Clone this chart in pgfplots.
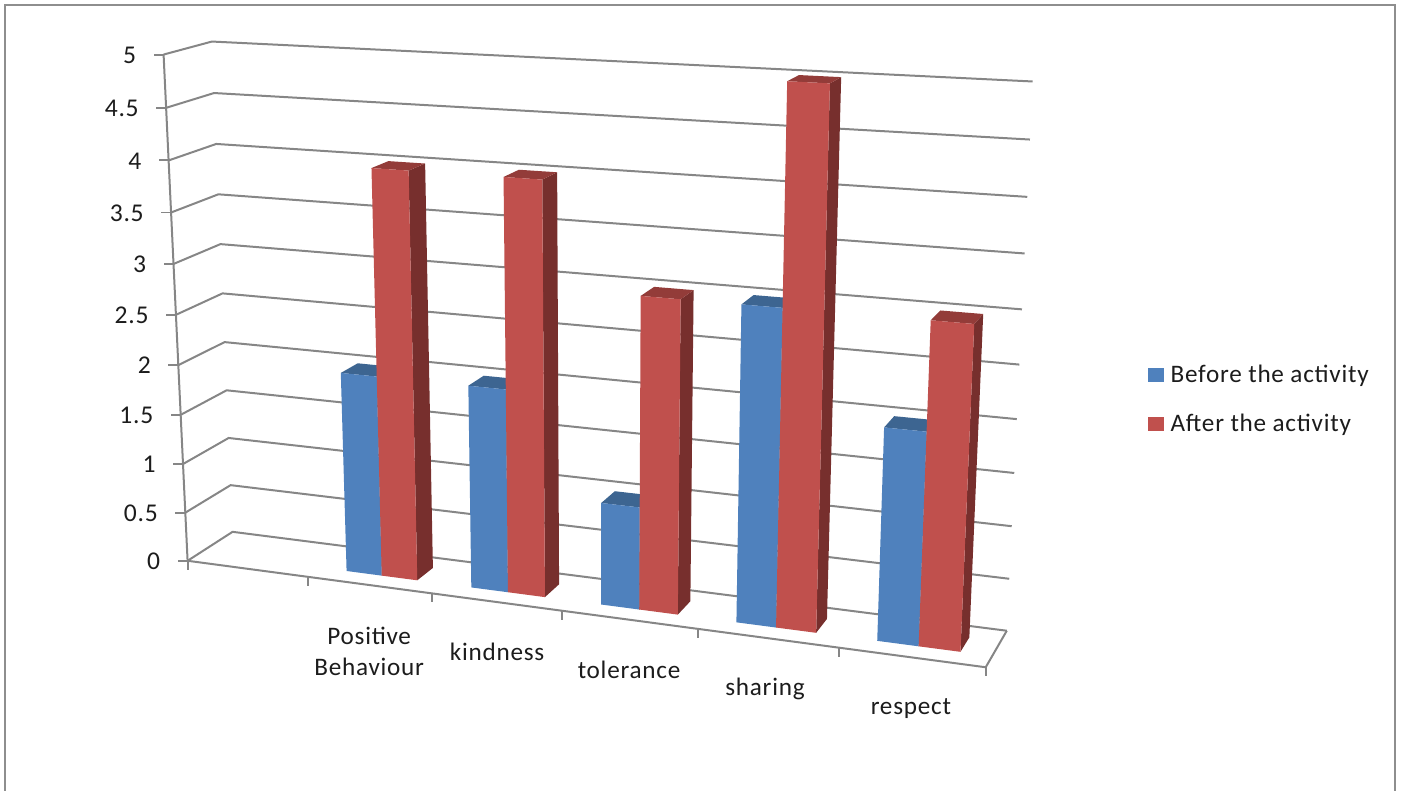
\documentclass[border=0pt]{standalone}
\usepackage{pgfplots}
\pgfplotsset{compat=1.18}
\usepackage{fontspec}
\setmainfont[LetterSpace=3]{Carlito}
\definecolor{wallgrey}{HTML}{868686}
\definecolor{framegrey}{HTML}{8E8E8E}
\definecolor{labelink}{HTML}{1C1C1C}
\definecolor{beforefront}{HTML}{4F81BD}
\definecolor{beforeside}{HTML}{2F5480}
\definecolor{beforetop}{HTML}{3D6591}
\definecolor{afterfront}{HTML}{C0504D}
\definecolor{afterside}{HTML}{772F2D}
\definecolor{aftertop}{HTML}{933C39}

% One column pair of a 3-D bar: u runs along the categories, d into the depth, v up the value axis.
\newcommand{\prism}[6]{%
  \addplot[draw=none,fill=#5,forget plot] table[row sep=\\,x expr={PX(\thisrow{u},\thisrow{d},\thisrow{v})},y expr={PY(\thisrow{u},\thisrow{d},\thisrow{v})}]
    {u d v\\ #2 0.3 0\\ #2 0.7 0\\ #2 0.7 #3\\ #2 0.3 #3\\};
  \addplot[draw=none,fill=#6,forget plot] table[row sep=\\,x expr={PX(\thisrow{u},\thisrow{d},\thisrow{v})},y expr={PY(\thisrow{u},\thisrow{d},\thisrow{v})}]
    {u d v\\ #1 0.3 #3\\ #2 0.3 #3\\ #2 0.7 #3\\ #1 0.7 #3\\};
  \addplot[draw=none,fill=#4,forget plot] table[row sep=\\,x expr={PX(\thisrow{u},\thisrow{d},\thisrow{v})},y expr={PY(\thisrow{u},\thisrow{d},\thisrow{v})}]
    {u d v\\ #1 0.3 0\\ #2 0.3 0\\ #2 0.3 #3\\ #1 0.3 #3\\};
}
\newcommand{\wallline}[1]{%
  \addplot[wallgrey,line width=1pt,forget plot] table[row sep=\\,x expr={PX(\thisrow{u},\thisrow{d},\thisrow{v})},y expr={PY(\thisrow{u},\thisrow{d},\thisrow{v})}]
    {u d v\\ 0 0 #1\\ 0 1 #1\\ 1 1 #1\\};
}

\begin{document}
\begin{tikzpicture}
\begin{axis}[
  width=702pt,height=395.5pt,scale only axis,
  xmin=0,xmax=1404,ymin=0,ymax=791,y dir=reverse,
  hide axis,clip=false,
  declare function={
    Wp(\a,\b,\c)=1-0.115*\a+0.034*\b-0.011*\c;
    PX(\a,\b,\c)=(187.3+685.2*\a+52.9*\b-6.6*\c)/Wp(\a,\b,\c);
    PY(\a,\b,\c)=(560.7+29.8*\a-10.9*\b-101.9*\c)/Wp(\a,\b,\c);
  },
]
% page and chart frame
\addplot[white,forget plot] coordinates {(0,0)(1404,791)};
\addplot[framegrey,line width=1pt,forget plot] coordinates {(5,791)(5,5)(1395,5)(1395,791)};

% walls: one gridline per half unit
\pgfplotsinvokeforeach{0.5,1,1.5,2,2.5,3,3.5,4,4.5,5}{\wallline{#1}}
\wallline{0}

% floor, value axis and the tick marks on both axes
\addplot[wallgrey,line width=1pt,forget plot] table[row sep=\\,x expr={PX(\thisrow{u},\thisrow{d},\thisrow{v})},y expr={PY(\thisrow{u},\thisrow{d},\thisrow{v})}]
  {u d v\\ 0 0 5\\ 0 0 0\\ 1 0 0\\ 1 1 0\\};
\pgfplotsinvokeforeach{0.1667,0.3333,0.5,0.6667,0.8333,0,1}{
  \addplot[wallgrey,line width=1pt,forget plot] table[row sep=\\,x expr={PX(#1,0,0)},y expr={PY(#1,0,0)+\thisrow{o}}]
    {o\\ 0\\ 9\\};
}
\pgfplotsinvokeforeach{0,0.5,1,1.5,2,2.5,3,3.5,4,4.5,5}{
  \addplot[wallgrey,line width=1pt,forget plot] table[row sep=\\,x expr={PX(0,0,#1)-\thisrow{o}},y expr={PY(0,0,#1)}]
    {o\\ 0\\ 10\\};
  \node[anchor=east,inner sep=0pt,text=labelink,font=\fontsize{12.8}{13}\selectfont]
    at (axis cs:{PX(0,0,#1)-27},{PY(0,0,#1)+0.5}) {#1};
}

% columns, left to right: before the activity, then after it
\prism{0.2024}{0.25}{2}{beforefront}{beforeside}{beforetop}
\prism{0.25}{0.2976}{4}{afterfront}{afterside}{aftertop}
\prism{0.369}{0.4167}{2}{beforefront}{beforeside}{beforetop}
\prism{0.4167}{0.4643}{4}{afterfront}{afterside}{aftertop}
\prism{0.5357}{0.5833}{1}{beforefront}{beforeside}{beforetop}
\prism{0.5833}{0.631}{3}{afterfront}{afterside}{aftertop}
\prism{0.7024}{0.75}{3}{beforefront}{beforeside}{beforetop}
\prism{0.75}{0.7976}{5}{afterfront}{afterside}{aftertop}
\prism{0.869}{0.9167}{2}{beforefront}{beforeside}{beforetop}
\prism{0.9167}{0.9643}{3}{afterfront}{afterside}{aftertop}

% category names
\begin{scope}[every node/.style={text=labelink,inner sep=0pt,font=\fontsize{12.6}{15.5}\selectfont,align=center}]
\node at (axis cs:369,651) {Positive\\Behaviour};
\node at (axis cs:497,651.5) {kindness};
\node at (axis cs:629,670) {tolerance};
\node at (axis cs:765,688.5) {sharing};
\node at (axis cs:911,708.5) {respect};
% legend
\node[anchor=west] at (axis cs:1170.5,376) {Before the activity};
\node[anchor=west] at (axis cs:1170.5,424.5) {After the activity};
\end{scope}
\addplot[draw=none,fill=beforefront,forget plot] coordinates {(1148,368)(1164,368)(1164,382)(1148,382)};
\addplot[draw=none,fill=afterfront,forget plot] coordinates {(1148,416.5)(1164,416.5)(1164,431)(1148,431)};
\end{axis}
\end{tikzpicture}
\end{document}
